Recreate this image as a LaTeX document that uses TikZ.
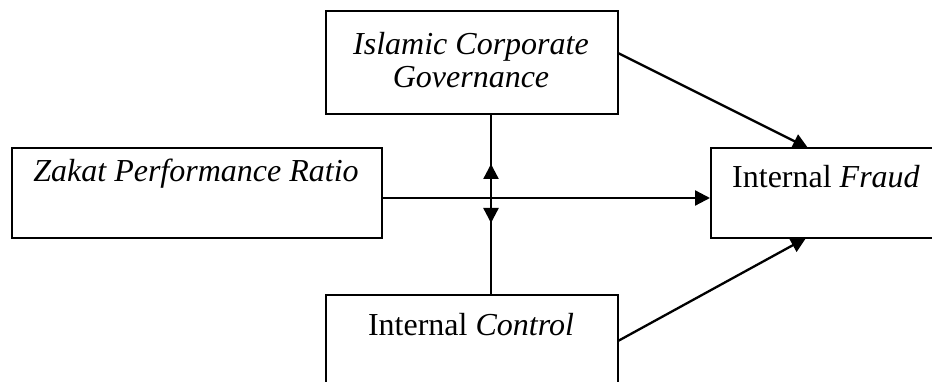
\documentclass[tikz,border=0pt]{standalone}
\usepackage{fontspec}
\setmainfont{Liberation Serif}
\usetikzlibrary{arrows.meta}
\begin{document}
\begin{tikzpicture}[x=1pt,y=-1pt,
  box/.style={draw=black,line width=2pt,rectangle,inner sep=0pt},
  lbl/.style={anchor=base,inner sep=0pt,font=\fontsize{32}{38}\selectfont},
  conn/.style={line width=2.3pt},
  arr/.style={conn,-{Triangle[length=15pt,width=15pt]}}]
\clip (0,0) rectangle (932,382);
\fill[white] (0,0) rectangle (932,382);
% boxes
\node[box,minimum width=292pt,minimum height=103pt] (icg) at (472,62.5) {};
\node[box,minimum width=370pt,minimum height=90pt] (zakat) at (197,193) {};
\node[box,minimum width=260pt,minimum height=90pt] (fraud) at (841,193) {};
\node[box,minimum width=292pt,minimum height=120pt] (control) at (472,355) {};
% labels
\node[lbl] (t1) at (471,55) {\itshape Islamic Corporate};
\node[lbl] (t2) at (471,88) {\itshape Governance};
\node[lbl] (t3) at (196,182) {\itshape Zakat Performance Ratio};
\node[lbl] (t4) at (826,188) {Internal \textit{Fraud}};
\node[lbl] (t5) at (471,335) {Internal \textit{Control}};
% coordinates
\coordinate (mid) at (491,198);
\coordinate (uptip) at (491,164);
\coordinate (dntip) at (491,223);
\coordinate (icgout) at (618,53);
\coordinate (ctlout) at (618,341);
\coordinate (ftop) at (808,148);
\coordinate (fbot) at (806,238);
% connectors
\draw[conn] (icg.south -| mid) -- (control.north -| mid);
\draw[arr] (mid) -- (uptip);
\draw[arr] (mid) -- (dntip);
\draw[arr] (zakat.east |- mid) -- (fraud.west |- mid);
\draw[arr] (icgout) -- (ftop);
\draw[arr] (ctlout) -- (fbot);
\end{tikzpicture}
\end{document}
